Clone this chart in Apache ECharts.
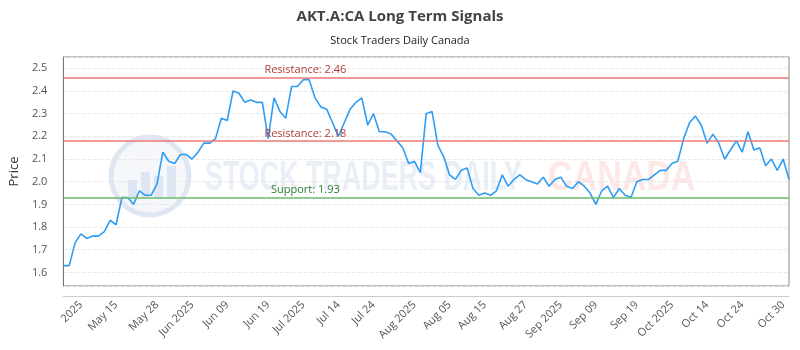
<!DOCTYPE html>
<html>
<head>
<meta charset="utf-8">
<script src="https://cdn.jsdelivr.net/npm/echarts@6/dist/echarts.min.js"></script>
<style>
  html, body { margin: 0; padding: 0; background: #fff; }
  #chart { width: 800px; height: 350px; }
</style>
</head>
<body>
<div id="chart"></div>
<script>
// closing prices, one per session
const prices = [
  1.63, 1.63, 1.73, 1.77, 1.75, 1.76, 1.76, 1.78, 1.83, 1.81,
  1.93, 1.93, 1.90, 1.96, 1.94, 1.94, 1.99, 2.13, 2.09, 2.08,
  2.12, 2.12, 2.10, 2.13, 2.17, 2.17, 2.19, 2.28, 2.27, 2.40,
  2.39, 2.35, 2.36, 2.35, 2.35, 2.19, 2.37, 2.31, 2.28, 2.42,
  2.42, 2.45, 2.45, 2.37, 2.33, 2.32, 2.26, 2.20, 2.26, 2.32,
  2.35, 2.37, 2.25, 2.30, 2.22, 2.22, 2.21, 2.18, 2.15, 2.08,
  2.09, 2.04, 2.30, 2.31, 2.16, 2.11, 2.03, 2.01, 2.05, 2.06,
  1.97, 1.94, 1.95, 1.94, 1.96, 2.03, 1.98, 2.01, 2.03, 2.01,
  2.00, 1.99, 2.02, 1.98, 2.01, 2.02, 1.98, 1.97, 2.00, 1.98,
  1.95, 1.90, 1.96, 1.98, 1.93, 1.97, 1.94, 1.93, 2.00, 2.01,
  2.01, 2.03, 2.05, 2.05, 2.08, 2.09, 2.19, 2.26, 2.29, 2.25,
  2.17, 2.21, 2.17, 2.10, 2.14, 2.18, 2.13, 2.22, 2.14, 2.15,
  2.07, 2.10, 2.05, 2.10, 2.01
]

// x labels and the session they sit on
const tickLabels = ['2025', 'May 15', 'May 28', 'Jun 2025', 'Jun 09', 'Jun 19', 'Jul 2025', 'Jul 14', 'Jul 24', 'Aug 2025',
  'Aug 05', 'Aug 15', 'Aug 27', 'Sep 2025', 'Sep 09', 'Sep 19', 'Oct 2025', 'Oct 14', 'Oct 24', 'Oct 30']
const tickSessions = [3, 9, 16, 22, 28, 35, 41, 47, 53, 60, 66, 72, 79, 85, 91, 98, 104, 110, 116, 123]

const resistanceHigh = 2.46
const resistanceLow = 2.18
const support = 1.93

let categories = prices.map(() => '')
tickSessions.forEach((s, i) => { categories[s] = tickLabels[i] })

const FONT = 'Open Sans'
const WM_FONT = 'bold 42px "Liberation Sans", Arial, sans-serif'

function levelLine (value, text, lineColor, textColor) {
  return {
    yAxis: value,
    lineStyle: { color: lineColor, width: 2, type: 'solid' },
    label: {
      show: true,
      formatter: text,
      position: 'insideStartTop',
      distance: [242, 2],
      align: 'center',
      color: textColor,
      fontSize: 11,
      fontFamily: FONT
    }
  }
}

let myChart = echarts.init(document.getElementById('chart'))
myChart.setOption({
  animation: false,
  backgroundColor: '#fff',
  title: {
    text: 'AKT.A:CA Long Term Signals',
    subtext: 'Stock Traders Daily Canada',
    left: 'center',
    top: 4,
    itemGap: 11,
    textStyle: { fontFamily: FONT, fontSize: 15, fontWeight: 'bold', color: '#444' },
    subtextStyle: { fontFamily: FONT, fontSize: 11, color: '#222' }
  },
  graphic: [
    {
      type: 'group',
      silent: true,
      z: -10,
      children: [
        // faded watermark logo + text
        { type: 'circle', shape: { cx: 150, cy: 176, r: 39 }, style: { fill: 'rgba(225,233,244,0.35)', stroke: 'rgba(215,225,240,0.8)', lineWidth: 5 } },
        { type: 'rect', shape: { x: 128, y: 180, width: 9, height: 18 }, style: { fill: 'rgba(215,225,240,0.8)' } },
        { type: 'rect', shape: { x: 141, y: 172, width: 9, height: 26 }, style: { fill: 'rgba(215,225,240,0.8)' } },
        { type: 'rect', shape: { x: 154, y: 176, width: 9, height: 22 }, style: { fill: 'rgba(215,225,240,0.8)' } },
        { type: 'rect', shape: { x: 167, y: 166, width: 9, height: 32 }, style: { fill: 'rgba(215,225,240,0.8)' } },
        { type: 'text', x: 205, y: 178, scaleX: 0.64, style: { text: 'STOCK TRADERS DAILY', font: WM_FONT, verticalAlign: 'middle', fill: 'rgba(215,225,240,0.55)' } },
        { type: 'text', x: 548, y: 178, scaleX: 0.81, style: { text: 'CANADA', font: WM_FONT, verticalAlign: 'middle', fill: 'rgba(252,212,212,0.55)' } }
      ]
    }
  ],
  grid: {
    left: 63,
    right: 11,
    top: 57,
    bottom: 64,
    show: true,
    borderColor: '#888',
    borderWidth: 1
  },
  xAxis: {
    type: 'category',
    boundaryGap: false,
    data: categories,
    offset: 10,
    axisLine: { show: true, lineStyle: { color: '#ccc' } },
    axisTick: { show: false },
    splitLine: { show: false },
    axisLabel: {
      interval: (idx, val) => val !== '',
      rotate: 45,
      margin: 7,
      color: '#555',
      fontSize: 11,
      fontFamily: FONT
    }
  },
  yAxis: {
    type: 'value',
    min: 1.54,
    max: 2.55,
    splitNumber: 10,
    name: 'Price',
    nameLocation: 'middle',
    nameGap: 40,
    nameTextStyle: { color: '#333', fontSize: 13, fontFamily: FONT },
    axisLine: { show: true, lineStyle: { color: '#777' } },
    axisTick: { show: false },
    axisLabel: {
      showMinLabel: false,
      showMaxLabel: false,
      margin: 16,
      formatter: v => v.toFixed(1),
      color: '#555',
      fontSize: 11,
      fontFamily: FONT
    },
    splitLine: { show: true, lineStyle: { color: '#e8e8e8', type: 'dashed' } }
  },
  series: [
    {
      name: 'Price',
      type: 'line',
      data: prices,
      symbol: 'none',
      lineStyle: { color: '#2f9df4', width: 1.6 },
      markLine: {
        silent: true,
        symbol: 'none',
        data: [
          levelLine(resistanceHigh, 'Resistance: 2.46', 'rgba(236,120,120,0.75)', '#b23b3b'),
          levelLine(resistanceLow, 'Resistance: 2.18', 'rgba(236,120,120,0.75)', '#b23b3b'),
          levelLine(support, 'Support: 1.93', 'rgba(110,185,110,0.75)', '#2e7d32')
        ]
      }
    }
  ]
})
</script>
</body>
</html>
